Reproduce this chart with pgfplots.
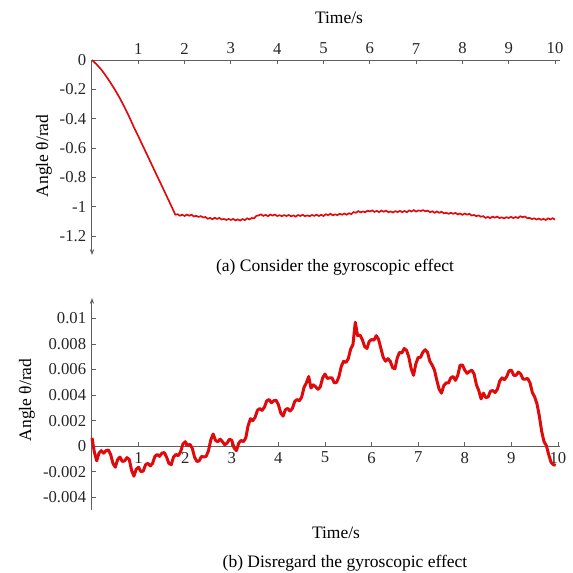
\documentclass[border=0pt]{standalone}
\usepackage{pgfplots}
\pgfplotsset{compat=1.18}
\usepackage{fontspec}
\setmainfont{Liberation Serif}
\usetikzlibrary{arrows.meta}

\definecolor{curve}{RGB}{222,10,12}
\definecolor{axisgray}{RGB}{95,95,95}

\pgfplotsset{
  common/.style={
    scale only axis,
    clip=false,
    tick align=inside,
    major tick length=2.6pt,
    every tick/.style={axisgray, line width=0.5pt},
    axis line style={axisgray, line width=0.6pt},
    tick label style={font=\fontsize{10}{12}\selectfont, text=black!85},
    /pgf/number format/assume math mode=true,
    scaled y ticks=false,
    scaled x ticks=false,
  },
}

\begin{document}
\begin{tikzpicture}[font=\fontsize{10.5}{12.6}\selectfont]
\useasboundingbox (0,0) rectangle (343.8pt,343.8pt);

% (a) response with the gyroscopic term
\begin{axis}[common,
  at={(55.2pt,190.8pt)}, anchor=south west,
  width=280.6pt, height=117pt,
  xmin=0, xmax=10.1, ymin=-1.33, ymax=0,
  axis x line*=top, axis y line*=left,
  y axis line style={{Stealth[length=3.5pt,width=2.6pt]}-},
  xtick={1,2,...,10},
  ytick={-1.2,-1,-0.8,-0.6,-0.4,-0.2,0},
  yticklabels={-1.2,-1,-0.8,-0.6,-0.4,-0.2,0},
]
\addplot[curve, line width=1pt] table {
x y
0 0
0.1 -0.03
0.2 -0.065
0.3 -0.108
0.4 -0.155
0.5 -0.205
0.6 -0.26
0.7 -0.32
0.8 -0.385
0.9 -0.455
1.0 -0.52
1.1 -0.587
1.2 -0.653
1.3 -0.72
1.4 -0.787
1.5 -0.853
1.6 -0.92
1.7 -0.987
1.8 -1.055
1.85 -1.052
1.90 -1.062
1.95 -1.055
2.00 -1.064
2.05 -1.054
2.10 -1.062
2.15 -1.055
2.20 -1.067
2.25 -1.063
2.30 -1.070
2.35 -1.065
2.40 -1.074
2.45 -1.071
2.50 -1.083
2.55 -1.077
2.60 -1.086
2.65 -1.076
2.70 -1.084
2.75 -1.077
2.80 -1.088
2.85 -1.084
2.90 -1.091
2.95 -1.084
3.00 -1.091
3.05 -1.084
3.10 -1.094
3.15 -1.087
3.20 -1.095
3.25 -1.085
3.30 -1.092
3.35 -1.080
3.40 -1.087
3.45 -1.078
3.50 -1.080
3.55 -1.063
3.60 -1.060
3.65 -1.053
3.70 -1.063
3.75 -1.056
3.80 -1.065
3.85 -1.054
3.90 -1.061
3.95 -1.054
4.00 -1.064
4.05 -1.059
4.10 -1.065
4.15 -1.058
4.20 -1.064
4.25 -1.057
4.30 -1.066
4.35 -1.060
4.40 -1.068
4.45 -1.057
4.50 -1.064
4.55 -1.056
4.60 -1.065
4.65 -1.060
4.70 -1.065
4.75 -1.057
4.80 -1.063
4.85 -1.055
4.90 -1.064
4.95 -1.056
5.00 -1.064
5.05 -1.052
5.10 -1.058
5.15 -1.049
5.20 -1.059
5.25 -1.053
5.30 -1.058
5.35 -1.049
5.40 -1.055
5.45 -1.047
5.50 -1.055
5.55 -1.045
5.60 -1.051
5.65 -1.037
5.70 -1.042
5.75 -1.031
5.80 -1.039
5.85 -1.033
5.90 -1.038
5.95 -1.028
6.00 -1.033
6.05 -1.026
6.10 -1.036
6.15 -1.029
6.20 -1.038
6.25 -1.027
6.30 -1.035
6.35 -1.027
6.40 -1.038
6.45 -1.033
6.50 -1.040
6.55 -1.031
6.60 -1.037
6.65 -1.029
6.70 -1.038
6.75 -1.030
6.80 -1.038
6.85 -1.026
6.90 -1.033
6.95 -1.024
7.00 -1.034
7.05 -1.026
7.10 -1.030
7.15 -1.024
7.20 -1.032
7.25 -1.027
7.30 -1.038
7.35 -1.032
7.40 -1.042
7.45 -1.033
7.50 -1.042
7.55 -1.035
7.60 -1.046
7.65 -1.042
7.70 -1.049
7.75 -1.042
7.80 -1.049
7.85 -1.043
7.90 -1.053
7.95 -1.047
8.00 -1.056
8.05 -1.047
8.10 -1.055
8.15 -1.049
8.20 -1.061
8.25 -1.057
8.30 -1.065
8.35 -1.060
8.40 -1.069
8.45 -1.065
8.50 -1.077
8.55 -1.070
8.60 -1.079
8.65 -1.068
8.70 -1.075
8.75 -1.068
8.80 -1.078
8.85 -1.073
8.90 -1.080
8.95 -1.072
9.00 -1.078
9.05 -1.070
9.10 -1.078
9.15 -1.071
9.20 -1.078
9.25 -1.066
9.30 -1.072
9.35 -1.067
9.40 -1.079
9.45 -1.077
9.50 -1.085
9.55 -1.080
9.60 -1.088
9.65 -1.081
9.70 -1.090
9.75 -1.083
9.80 -1.091
9.85 -1.080
9.90 -1.087
9.95 -1.079
10.00 -1.089
};
\end{axis}

% (b) response without the gyroscopic term
\begin{axis}[common,
  at={(55.2pt,37.8pt)}, anchor=south west,
  width=281pt, height=127.2pt,
  xmin=0, xmax=10.05, ymin=-0.005, ymax=0.0116,
  axis x line*=middle, axis y line*=left,
  y axis line style={-{Stealth[length=3.5pt,width=2.6pt]}},
  xtick={1,2,...,10},
  ytick={-0.004,-0.002,0,0.002,0.004,0.006,0.008,0.01},
  yticklabels={-0.004,-0.002,0,0.002,0.004,0.006,0.008,0.01},
]
\addplot[curve, line width=1.8pt, line join=round] table {
x y
0.00 0.00065
0.05 -0.00045
0.10 -0.00115
0.15 -0.00055
0.20 -0.00035
0.25 -0.00055
0.30 -0.00035
0.35 -0.00030
0.40 -0.00065
0.45 -0.00135
0.50 -0.00165
0.55 -0.00105
0.60 -0.00085
0.65 -0.00120
0.70 -0.00115
0.75 -0.00090
0.80 -0.00105
0.85 -0.00190
0.90 -0.00235
0.95 -0.00180
1.00 -0.00165
1.05 -0.00200
1.10 -0.00195
1.15 -0.00145
1.20 -0.00135
1.25 -0.00155
1.30 -0.00135
1.35 -0.00080
1.40 -0.00065
1.45 -0.00080
1.50 -0.00055
1.55 -0.00050
1.60 -0.00085
1.65 -0.00135
1.70 -0.00145
1.75 -0.00085
1.80 -0.00065
1.85 -0.00075
1.90 -0.00045
1.95 0.00015
2.00 0.00035
2.05 0.00005
2.10 0.00015
2.15 -0.00015
2.20 -0.00085
2.25 -0.00120
2.30 -0.00115
2.35 -0.00080
2.40 -0.00085
2.45 -0.00080
2.50 -0.00035
2.55 0.00050
2.60 0.00095
2.65 0.00045
2.70 0.00035
2.75 0.00055
2.80 0.00035
2.85 0.00010
2.90 0.00025
2.95 0.00055
3.00 0.00045
3.05 -0.00015
3.10 -0.00035
3.15 0.00025
3.20 0.00045
3.25 0.00035
3.30 0.00065
3.35 0.00160
3.40 0.00215
3.45 0.00200
3.50 0.00225
3.55 0.00280
3.60 0.00295
3.65 0.00280
3.70 0.00305
3.75 0.00355
3.80 0.00365
3.85 0.00340
3.90 0.00355
3.95 0.00360
4.00 0.00325
4.05 0.00260
4.10 0.00235
4.15 0.00285
4.20 0.00295
4.25 0.00275
4.30 0.00295
4.35 0.00350
4.40 0.00365
4.45 0.00355
4.50 0.00385
4.55 0.00460
4.60 0.00495
4.65 0.00545
4.70 0.00455
4.75 0.00480
4.80 0.00465
4.85 0.00445
4.90 0.00465
4.95 0.00535
5.00 0.00565
5.05 0.00530
5.10 0.00535
5.15 0.00535
5.20 0.00495
5.25 0.00500
5.30 0.00545
5.35 0.00625
5.40 0.00665
5.45 0.00655
5.50 0.00685
5.55 0.00760
5.60 0.00795
5.65 0.00970
5.70 0.00865
5.75 0.00870
5.80 0.00835
5.85 0.00780
5.90 0.00765
5.95 0.00820
6.00 0.00835
6.05 0.00830
6.10 0.00865
6.15 0.00835
6.20 0.00765
6.25 0.00695
6.30 0.00665
6.35 0.00685
6.40 0.00665
6.45 0.00615
6.50 0.00605
6.55 0.00690
6.60 0.00735
6.65 0.00730
6.70 0.00765
6.75 0.00750
6.80 0.00695
6.85 0.00605
6.90 0.00555
6.95 0.00645
7.00 0.00695
7.05 0.00695
7.10 0.00735
7.15 0.00755
7.20 0.00735
7.25 0.00665
7.30 0.00635
7.35 0.00595
7.40 0.00515
7.45 0.00445
7.50 0.00415
7.55 0.00475
7.60 0.00495
7.65 0.00495
7.70 0.00535
7.75 0.00545
7.80 0.00515
7.85 0.00555
7.90 0.00635
7.95 0.00635
8.00 0.00595
8.05 0.00570
8.10 0.00585
8.15 0.00595
8.20 0.00565
8.25 0.00480
8.30 0.00435
8.35 0.00370
8.40 0.00415
8.45 0.00380
8.50 0.00385
8.55 0.00430
8.60 0.00435
8.65 0.00420
8.70 0.00445
8.75 0.00510
8.80 0.00535
8.85 0.00520
8.90 0.00545
8.95 0.00590
9.00 0.00595
9.05 0.00555
9.10 0.00555
9.15 0.00580
9.20 0.00565
9.25 0.00525
9.30 0.00525
9.35 0.00530
9.40 0.00495
9.45 0.00420
9.50 0.00385
9.55 0.00330
9.60 0.00235
9.65 0.00115
9.70 0.00035
9.75 0.00005
9.80 -0.00065
9.85 -0.00125
9.90 -0.00145
9.95 -0.00150
};
\end{axis}

% axis titles and captions
\node at (203.4pt,333pt) {Time/s};
\node[rotate=90] at (26.4pt,250.2pt) {Angle θ/rad};
\node at (201pt,183.6pt) {(a) Consider the gyroscopic effect};
\node at (201.6pt,24pt) {Time/s};
\node[rotate=90] at (16.2pt,103.8pt) {Angle θ/rad};
\node at (207pt,6pt) {(b) Disregard the gyroscopic effect};
\end{tikzpicture}
\end{document}
